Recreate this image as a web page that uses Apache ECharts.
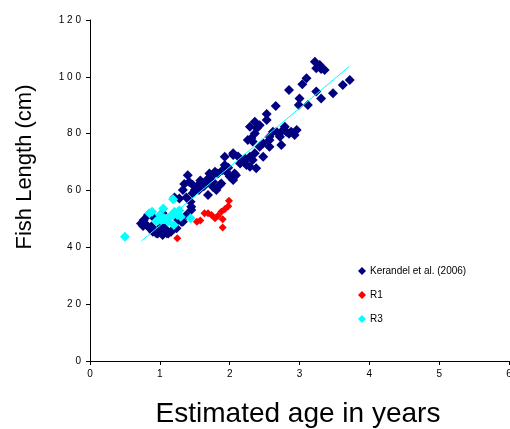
<!DOCTYPE html>
<html>
<head>
<meta charset="utf-8">
<script src="https://cdn.jsdelivr.net/npm/echarts@6/dist/echarts.min.js"></script>
<style>
  html, body { margin: 0; padding: 0; background: #fff; }
  #chart { width: 510px; height: 429px; }
</style>
</head>
<body>
<div id="chart"></div>
<script>
// Kerandel et al. (2006) - [age, length]
var kerandel = [
  [0.73,48.4],[0.77,49.6],[0.76,47.5],[0.81,47.9],[0.83,51.4],[0.86,46.5],[0.88,47.3],[0.90,45.5],
  [0.90,50.8],[0.92,46.1],[0.95,45.0],[0.97,44.9],[1.00,46.0],[1.02,47.3],[1.04,44.3],[1.04,52.0],
  [1.07,46.7],[1.10,45.0],[1.12,44.9],[1.16,45.5],[1.20,46.5],[1.24,46.7],[1.26,49.6],[1.31,49.0],
  [1.33,49.0],[1.38,51.4],[1.45,53.1],[1.45,54.3],[1.21,57.5],[1.28,57.2],[1.38,57.5],[1.44,56.0],
  [1.35,62.3],[1.40,65.4],[1.42,63.0],[1.47,62.0],[1.33,60.2],[1.47,59.0],[1.50,60.2],[1.55,61.9],
  [1.56,60.2],[1.58,63.5],[1.63,61.5],[1.67,63.7],[1.69,63.1],[1.69,58.4],[1.71,66.0],[1.74,64.9],
  [1.76,61.3],[1.76,63.1],[1.79,66.6],[1.81,60.2],[1.83,66.0],[1.86,61.9],[1.88,62.5],[1.90,67.2],
  [1.93,69.0],[1.93,71.9],[1.95,66.6],[2.00,64.9],[2.05,63.7],[2.05,72.5],[2.05,73.1],[2.07,66.0],
  [2.09,65.4],[1.98,68.0],[2.12,72.0],[2.15,69.5],[2.21,70.2],[2.22,71.3],[2.24,69.0],[2.29,68.4],
  [2.29,71.9],[2.33,70.7],[2.38,67.8],[2.36,73.1],[2.26,77.8],[2.29,82.4],[2.31,78.4],[2.33,77.2],
  [2.36,80.1],[2.36,84.2],[2.39,81.9],[2.43,83.0],[2.43,75.4],[2.48,76.6],[2.48,71.9],[2.53,84.8],
  [2.53,86.9],[2.57,77.8],[2.57,78.9],[2.57,75.4],[2.62,80.7],[2.66,89.7],[2.67,80.7],[2.72,78.9],
  [2.74,80.7],[2.74,76.0],[2.79,82.4],[2.81,80.7],[2.85,80.0],[2.88,80.7],[2.96,81.3],[2.93,79.5],
  [2.85,95.4],[2.99,90.1],[3.00,92.4],[3.04,97.4],[3.10,99.5],[3.12,90.1],[3.22,105.3],[3.24,103.0],
  [3.29,104.2],[3.36,102.4],[3.31,102.8],[3.24,94.8],[3.31,92.4],[3.48,94.2],[3.62,97.1],[3.72,98.9]
];

// R1
var r1 = [
  [1.25,43.2],[1.53,49.0],[1.58,49.4],[1.64,52.0],[1.69,52.0],[1.74,51.4],[1.79,50.2],
  [1.83,51.0],[1.88,52.5],[1.93,53.4],[1.98,54.5],[1.99,56.4],[1.90,49.9],[1.90,47.0]
];

// R3
var r3 = [
  [0.50,43.7],[0.85,52.0],[0.89,52.5],[0.95,49.3],[0.98,49.6],[1.02,49.6],[1.05,53.7],
  [1.07,50.2],[1.12,49.0],[1.14,50.8],[1.19,56.9],[1.19,51.4],[1.21,52.5],[1.25,51.4],
  [1.30,50.8],[1.20,47.9],[1.44,50.2],[1.00,51.5],[1.28,53.0]
];

// fitted line
var trendX = [0.74, 3.71];
var trendY = [42.3, 103.6];

var yTicks = ['0', '2 0', '4 0', '6 0', '8 0', '1 0 0', '1 2 0'];

var chart = echarts.init(document.getElementById('chart'));

chart.setOption({
  backgroundColor: '#fff',
  animation: false,
  textStyle: { fontFamily: 'Liberation Sans, Arial, sans-serif' },
  grid: { left: 90, right: 1, top: 20, bottom: 68, containLabel: false, outerBoundsMode: 'none' },
  legend: {
    data: [
      { name: 'Kerandel et al. (2006)', itemStyle: { color: '#000080' } },
      { name: 'R1', itemStyle: { color: '#ff0000' } },
      { name: 'R3', itemStyle: { color: '#00ffff' } }
    ],
    orient: 'vertical',
    left: 353,
    top: 261,
    itemWidth: 8,
    itemHeight: 8,
    itemGap: 14,
    icon: 'diamond',
    textStyle: { fontSize: 10, color: '#000', padding: [0, 0, 0, -1] }
  },
  xAxis: {
    type: 'value',
    min: 0, max: 6, interval: 1,
    splitLine: { show: false },
    axisLine: { onZero: false, lineStyle: { color: '#000', width: 1 } },
    axisTick: { length: 4, lineStyle: { color: '#000' } },
    axisLabel: { color: '#000', fontSize: 10, margin: 8 }
  },
  yAxis: {
    type: 'value',
    min: 0, max: 120, interval: 20,
    splitLine: { show: false },
    axisLine: { show: true, onZero: false, lineStyle: { color: '#000', width: 1 } },
    axisTick: { show: true, length: 4, lineStyle: { color: '#000' } },
    axisLabel: {
      color: '#000', fontSize: 10, margin: 9,
      formatter: function (v) { return yTicks[v / 20]; }
    }
  },
  graphic: [
    {
      type: 'text',
      x: 25, y: 167, rotation: Math.PI / 2,
      style: {
        text: 'Fish Length (cm)', fill: '#000',
        font: '22px Liberation Sans, Arial, sans-serif',
        textAlign: 'center', textVerticalAlign: 'middle'
      }
    },
    {
      type: 'text',
      x: 298, y: 414,
      style: {
        text: 'Estimated age in years', fill: '#000',
        font: '28px Liberation Sans, Arial, sans-serif',
        textAlign: 'center', textVerticalAlign: 'middle'
      }
    }
  ],
  series: [
    {
      name: 'Kerandel et al. (2006)', type: 'scatter', data: kerandel,
      symbol: 'diamond', symbolSize: 10,
      itemStyle: { color: '#000080', opacity: 1 }
    },
    {
      name: 'R1', type: 'scatter', data: r1,
      symbol: 'diamond', symbolSize: 8,
      itemStyle: { color: '#ff0000', opacity: 1 }
    },
    {
      name: 'R3', type: 'scatter', data: r3,
      symbol: 'diamond', symbolSize: 10,
      itemStyle: { color: '#00ffff', opacity: 1 }
    },
    {
      name: 'trend', type: 'line',
      data: trendX.map(function (x, i) { return [x, trendY[i]]; }),
      showSymbol: false, symbol: 'none',
      lineStyle: { color: '#00ffff', width: 1 },
      silent: true
    }
  ]
});
</script>
</body>
</html>
